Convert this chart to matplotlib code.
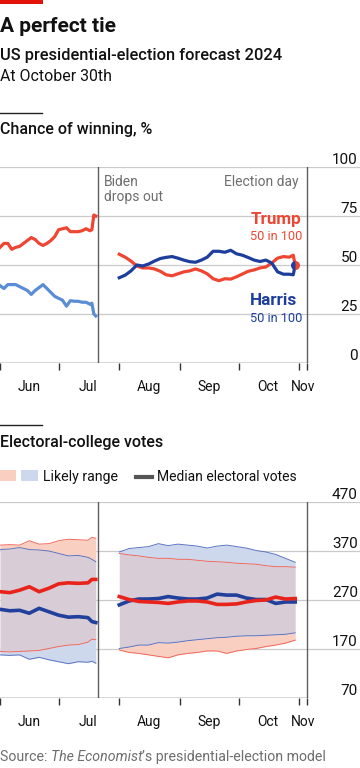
import matplotlib
matplotlib.use("Agg")
import matplotlib.pyplot as plt
import matplotlib.dates as mdates
from matplotlib.patches import Rectangle
from matplotlib.lines import Line2D
import numpy as np
from datetime import datetime

plt.rcParams['font.family'] = ['Roboto', 'DejaVu Sans']

# ---------------- data ----------------
# Chance of winning, % (before Biden drops out)
pre_dates = ["2024-06-01", "2024-06-03", "2024-06-05", "2024-06-07", "2024-06-09", "2024-06-11",
             "2024-06-13", "2024-06-15", "2024-06-17", "2024-06-19", "2024-06-21", "2024-06-23",
             "2024-06-25", "2024-06-27", "2024-06-29", "2024-07-01", "2024-07-03", "2024-07-05",
             "2024-07-07", "2024-07-09", "2024-07-11", "2024-07-13", "2024-07-15", "2024-07-17",
             "2024-07-18", "2024-07-19", "2024-07-20"]
trump_pre = [59, 61, 61, 58, 59, 59.5, 61, 62.5, 64, 63, 61, 60, 61, 62.5, 64.5, 68, 68.5, 69,
             67, 67, 67, 67.5, 68.5, 67.5, 68, 75.5, 75]
biden_pre = [39.5, 38, 40, 40, 40, 39, 38, 37, 35, 37, 38.5, 40, 38, 36, 34, 33, 32, 29,
             31.8, 31.5, 31.5, 31, 31, 30, 30.5, 25, 24]

# Chance of winning, % (Harris vs Trump)
post_dates = ["2024-08-01", "2024-08-04", "2024-08-07", "2024-08-10", "2024-08-13", "2024-08-16",
              "2024-08-19", "2024-08-22", "2024-08-25", "2024-08-28", "2024-08-31", "2024-09-03",
              "2024-09-06", "2024-09-09", "2024-09-12", "2024-09-15", "2024-09-18", "2024-09-21",
              "2024-09-24", "2024-09-27", "2024-09-30", "2024-10-03", "2024-10-06", "2024-10-09",
              "2024-10-12", "2024-10-15", "2024-10-18", "2024-10-21", "2024-10-24", "2024-10-27",
              "2024-10-29", "2024-10-30"]
trump_post = [55.5, 54, 52, 49.5, 48.5, 48.5, 48, 46.8, 45, 44.5, 45.5, 46.5, 47, 48, 47, 45.5,
              43, 42, 43, 42.8, 44, 45.4, 46.8, 47.5, 48.5, 49, 51, 53.5, 54.3, 54, 55, 50]
harris_post = [43.5, 44.8, 47, 50, 49.5, 50.5, 52, 53.3, 53.9, 54.3, 53.5, 52.5, 51.7, 51.4, 52.5, 54,
               57, 57, 56.5, 57.5, 55.7, 55, 53.8, 52.5, 51.8, 52.5, 51, 46.5, 45.3, 45.3, 45, 50]

# Electoral-college votes (before Biden drops out)
ec_pre_dates = ["2024-06-01", "2024-06-06", "2024-06-11", "2024-06-16", "2024-06-21", "2024-06-26",
                "2024-07-01", "2024-07-06", "2024-07-11", "2024-07-16", "2024-07-18", "2024-07-20"]
trump_pre_hi = [382, 383, 382, 391, 384, 385, 391, 394, 393, 392, 398, 396]
trump_pre_med = [287, 285, 290, 297, 287, 294, 303, 305, 304, 305, 312, 312]
trump_pre_lo = [165, 164, 165, 166, 167, 171, 175, 178, 179, 184, 190, 189]
biden_pre_hi = [373, 374, 377, 373, 372, 370, 365, 360, 361, 357, 353, 348]
biden_pre_med = [251, 248, 249, 243, 253, 246, 239, 235, 236, 234, 226, 224]
biden_pre_lo = [158, 157, 158, 149, 153, 148, 144, 140, 144, 143, 145, 141]

# Electoral-college votes (Harris vs Trump)
ec_post_dates = ["2024-08-01", "2024-08-06", "2024-08-11", "2024-08-16", "2024-08-21", "2024-08-26",
                 "2024-08-31", "2024-09-05", "2024-09-10", "2024-09-15", "2024-09-20", "2024-09-25",
                 "2024-09-30", "2024-10-05", "2024-10-10", "2024-10-15", "2024-10-20", "2024-10-25",
                 "2024-10-30"]
harris_post_hi = [368, 375, 377, 379, 385, 381, 384, 382, 380, 376, 380, 382, 379, 376, 371, 368,
                  363, 355, 347]
harris_post_med = [260, 268, 272, 272, 273, 277, 274, 272, 272, 274, 282, 280, 280, 274, 271, 271,
                   263, 266, 266]
harris_post_lo = [171, 174, 178, 178, 183, 182, 184, 187, 189, 191, 193, 194, 196, 197, 197, 198,
                  199, 200, 203]
trump_post_hi = [365, 362, 360, 357, 355, 355, 353, 353, 351, 349, 348, 347, 345, 344, 343, 340,
                 338, 338, 337]
trump_post_med = [277, 271, 267, 266, 265, 263, 266, 268, 268, 266, 261, 261, 262, 266, 269, 270,
                  276, 272, 273]
trump_post_lo = [168, 163, 161, 158, 155, 152, 158, 161, 163, 166, 166, 161, 166, 169, 171, 175,
                 178, 182, 188]

pct_ticks = [0, 25, 50, 75, 100]
ec_ticks = [70, 170, 270, 370, 470]
month_starts = ["2024-06-01", "2024-07-01", "2024-08-01", "2024-09-01", "2024-10-01", "2024-11-01"]
month_label_dates = ["2024-06-16", "2024-07-16", "2024-08-16", "2024-09-16", "2024-10-16", "2024-11-03"]
month_labels = ["Jun", "Jul", "Aug", "Sep", "Oct", "Nov"]
dropout_date = "2024-07-21"
election_date = "2024-11-05"
latest_date = "2024-10-30"
latest_trump, latest_harris = 50, 50

# ---------------- style ----------------
RED_TOP = "#EE4633"
BLUE_TOP = "#1D3E9C"
BIDEN = "#5A8DD6"
RED_EC = "#E8231B"
BLUE_EC = "#21409B"
RED_RANGE = "#F0695C"
BLUE_RANGE = "#5C74C2"
RED_FILL = "#F9CFC2"
BLUE_FILL = "#CDD8EC"
OVERLAP = "#D8CDD6"
GRID = "#CACACA"
AXIS = "#333333"
VLINE = "#5E5E5E"
TEXT = "#111111"
GREY_TXT = "#6E6E6E"

W, H = 360, 768
fig = plt.figure(figsize=(W / 100, H / 100), dpi=100)


def fx(x):
    return x / W


def fy(y):
    return 1 - y / H


def d(s):
    return mdates.date2num(datetime.strptime(s, "%Y-%m-%d"))


x0 = d("2024-06-01")
x_end = x0 + 360 / 1.955


def setup_axes(ax, ticks, lo, hi):
    ax.set_xlim(x0, x_end)
    ax.set_ylim(lo, hi)
    for s in ax.spines.values():
        s.set_visible(False)
    ax.set_facecolor("none")
    for t in ticks[1:]:
        ax.axhline(t, color=GRID, lw=0.9, zorder=0)
    ax.axhline(ticks[0], xmax=(d(election_date) - x0) / (x_end - x0), color=AXIS, lw=1.0, zorder=5)
    ax.yaxis.tick_right()
    ax.set_yticks(ticks)
    ax.set_yticklabels([str(t) for t in ticks])
    ax.tick_params(axis="y", length=0, pad=-1.5, labelsize=11, labelcolor=TEXT)
    for lab in ax.get_yticklabels():
        lab.set_horizontalalignment("right")
        lab.set_verticalalignment("bottom")
    ax.set_xticks([d(s) for s in month_starts] + [d(election_date)])
    ax.set_xticklabels([""] * (len(month_starts) + 1))
    ax.set_xticks([d(s) for s in month_label_dates], minor=True)
    ax.set_xticklabels(month_labels, minor=True)
    ax.tick_params(axis="x", which="major", length=5, width=1, color=AXIS)
    ax.tick_params(axis="x", which="minor", length=0, pad=12, labelsize=10, labelcolor=TEXT)
    ax.axvline(d(dropout_date), color=VLINE, lw=1.0, zorder=4)
    ax.axvline(d(election_date), color=VLINE, lw=1.0, zorder=4)


# ---------- top chart ----------
ax1 = fig.add_axes([0, fy(363), 1, (363 - 167) / H])
setup_axes(ax1, pct_ticks, 0, 100)
pre_x = [d(s) for s in pre_dates]
post_x = [d(s) for s in post_dates]
ax1.plot(pre_x, trump_pre, color=RED_TOP, lw=2.3, solid_joinstyle="round", zorder=6)
ax1.plot(pre_x, biden_pre, color=BIDEN, lw=2.3, solid_joinstyle="round", zorder=6)
ax1.plot(post_x, trump_post, color=RED_TOP, lw=2.3, solid_joinstyle="round", zorder=6)
ax1.plot(post_x, harris_post, color=BLUE_TOP, lw=2.3, solid_joinstyle="round", zorder=7)
ax1.plot([d(latest_date)], [latest_trump], marker="o", ms=6.5, fillstyle="left",
         markerfacecolor=BLUE_TOP, markerfacecoloralt=RED_TOP, markeredgewidth=0, zorder=8)

# ---------- electoral college chart ----------
ax2 = fig.add_axes([0, fy(698), 1, (698 - 502) / H])
setup_axes(ax2, ec_ticks, 70, 470)


def ranges(ax, xs, r_lo, r_hi, b_lo, b_hi, r_med, b_med, b_med_col):
    xs = np.array(xs)
    r_lo, r_hi, b_lo, b_hi = map(np.asarray, (r_lo, r_hi, b_lo, b_hi))
    ov_lo = np.maximum(r_lo, b_lo)
    ov_hi = np.minimum(r_hi, b_hi)
    ax.fill_between(xs, ov_lo, ov_hi, color=OVERLAP, lw=0, zorder=1)
    ax.fill_between(xs, b_hi, r_hi, where=r_hi >= b_hi, interpolate=True, color=RED_FILL, lw=0, zorder=1)
    ax.fill_between(xs, r_hi, b_hi, where=b_hi > r_hi, interpolate=True, color=BLUE_FILL, lw=0, zorder=1)
    ax.fill_between(xs, r_lo, b_lo, where=r_lo <= b_lo, interpolate=True, color=RED_FILL, lw=0, zorder=1)
    ax.fill_between(xs, b_lo, r_lo, where=b_lo < r_lo, interpolate=True, color=BLUE_FILL, lw=0, zorder=1)
    for arr, c in ((r_lo, RED_RANGE), (r_hi, RED_RANGE), (b_lo, BLUE_RANGE), (b_hi, BLUE_RANGE)):
        ax.plot(xs, arr, color=c, lw=0.7, zorder=2)
    ax.plot(xs, b_med, color=b_med_col, lw=2.6, solid_joinstyle="round", zorder=6)
    ax.plot(xs, r_med, color=RED_EC, lw=2.6, solid_joinstyle="round", zorder=6)


ranges(ax2, [d(s) for s in ec_pre_dates], trump_pre_lo, trump_pre_hi, biden_pre_lo, biden_pre_hi,
       trump_pre_med, biden_pre_med, BLUE_EC)
ranges(ax2, [d(s) for s in ec_post_dates], trump_post_lo, trump_post_hi, harris_post_lo, harris_post_hi,
       trump_post_med, harris_post_med, BLUE_EC)

# ---------------- annotations ----------------
ax1.text(d(dropout_date) + 3, 100 - (186 - 167) / 1.96, "Biden", color=GREY_TXT, fontsize=10,
         ha="left", va="baseline")
ax1.text(d(dropout_date) + 3, 100 - (201 - 167) / 1.96, "drops out", color=GREY_TXT, fontsize=10,
         ha="left", va="baseline")
ax1.text(d(election_date) - 4, 100 - (186 - 167) / 1.96, "Election day", color=GREY_TXT, fontsize=10,
         ha="right", va="baseline")
lab_x = d("2024-10-07")
ax1.text(lab_x, (363 - 224) / 1.96, "Trump", color=RED_TOP, fontsize=12.3, fontweight="bold", ha="left", va="baseline")
ax1.text(lab_x, (363 - 240.5) / 1.96, "50 in 100", color=RED_TOP, fontsize=9.2, ha="left", va="baseline")
ax1.text(lab_x, (363 - 305) / 1.96, "Harris", color=BLUE_TOP, fontsize=12.3, fontweight="bold", ha="left", va="baseline")
ax1.text(lab_x, (363 - 321.5) / 1.96, "50 in 100", color=BLUE_TOP, fontsize=9.2, ha="left", va="baseline")

# ---------------- titles ----------------
fig.add_artist(Rectangle((0, fy(4)), fx(43), 4 / H, transform=fig.transFigure, color="#E3120B", lw=0))
fig.text(0, fy(32), "A perfect tie", fontsize=15, fontweight="bold", color=TEXT, ha="left", va="baseline")
fig.text(0, fy(60), "US presidential-election forecast 2024", fontsize=11.8, fontweight="medium",
         color=TEXT, ha="left", va="baseline")
fig.text(0, fy(81), "At October 30th", fontsize=11.4, color=TEXT, ha="left", va="baseline")

fig.add_artist(Line2D([0, fx(42)], [fy(113), fy(113)], transform=fig.transFigure, color="#222222", lw=1.0))
fig.text(0, fy(134), "Chance of winning, %", fontsize=11.5, fontweight="medium", color=TEXT,
         ha="left", va="baseline")

fig.add_artist(Line2D([0, fx(42)], [fy(425), fy(425)], transform=fig.transFigure, color="#222222", lw=1.0))
fig.text(0, fy(447), "Electoral-college votes", fontsize=11.5, fontweight="medium", color=TEXT,
         ha="left", va="baseline")

# legend
fig.add_artist(Rectangle((fx(0), fy(481)), fx(16), 11 / H, transform=fig.transFigure, color=RED_FILL, lw=0))
fig.add_artist(Rectangle((fx(21), fy(481)), fx(17), 11 / H, transform=fig.transFigure, color=BLUE_FILL, lw=0))
fig.text(fx(43), fy(481), "Likely range", fontsize=10.2, color=TEXT, ha="left", va="baseline")
fig.add_artist(Line2D([fx(136), fx(152)], [fy(476.5), fy(476.5)], transform=fig.transFigure,
                      color="#555555", lw=3))
fig.text(fx(157), fy(481), "Median electoral votes", fontsize=10, color=TEXT, ha="left", va="baseline")

# source line with italic part
renderer = fig.canvas.get_renderer()
t1 = fig.text(0, fy(761), "Source: ", fontsize=10.2, color=GREY_TXT, ha="left", va="baseline")
bb = t1.get_window_extent(renderer)
t2 = fig.text(bb.x1 / fig.bbox.width, fy(761), "The Economist", fontsize=10.2, style="italic",
              color=GREY_TXT, ha="left", va="baseline")
bb2 = t2.get_window_extent(renderer)
fig.text(bb2.x1 / fig.bbox.width, fy(761), "\u2019s presidential-election model", fontsize=10.2,
         color=GREY_TXT, ha="left", va="baseline")

fig.savefig("out.png", dpi=100, facecolor="white")
